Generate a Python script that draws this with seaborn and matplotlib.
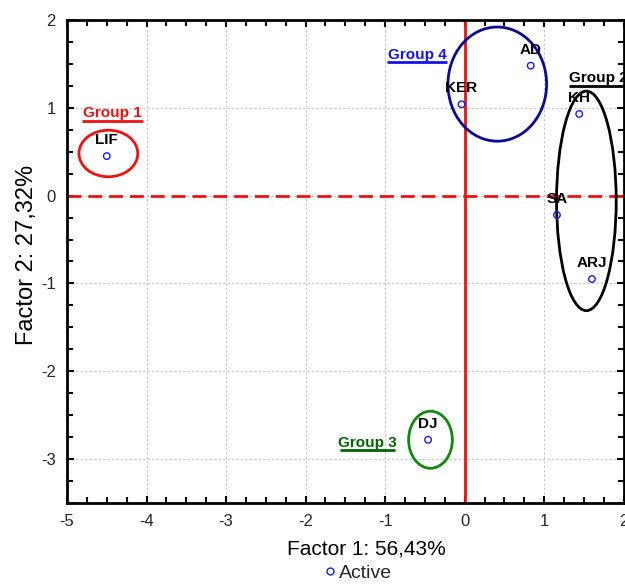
import matplotlib
matplotlib.use("Agg")
import matplotlib.pyplot as plt
from matplotlib.patches import Ellipse
from matplotlib.ticker import MultipleLocator
from matplotlib.lines import Line2D
import seaborn as sns
import pandas as pd

sns.set_theme(style="white")
plt.rcParams['font.family'] = ['Liberation Sans', 'DejaVu Sans']
plt.rcParams['axes.unicode_minus'] = False

labels = ["LIF", "KER", "AD", "KH", "SA", "ARJ", "DJ"]
factor1 = [-4.50, -0.04, 0.83, 1.44, 1.16, 1.60, -0.46]
factor2 = [0.45, 1.04, 1.48, 0.93, -0.22, -0.95, -2.78]

group_names = ["Group 1", "Group 4", "Group 2", "Group 3"]
group_colors = ["#ee1111", "#1414e6", "#000000", "#006400"]
ell_colors = ["#ee1111", "#0a0a96", "#000000", "#118811"]
ell_cx = [-4.48, 0.41, 1.53, -0.43]
ell_cy = [0.48, 1.27, -0.06, -2.78]
ell_w = [0.74, 1.24, 0.75, 0.55]
ell_h = [0.53, 1.30, 2.50, 0.65]
gline_x0 = [-4.81, -0.98, 1.31, -1.57]
gline_x1 = [-4.04, -0.22, 2.05, -0.87]
gline_y = [0.852, 1.52, 1.25, -2.90]
glabel_ha = ["center", "center", "left", "center"]

df = pd.DataFrame({"f1": factor1, "f2": factor2, "lab": labels})

fig = plt.figure(figsize=(6.25, 5.88), dpi=100)
ax = fig.add_axes([0.1072, 0.1446, 0.8908, 0.8214])

ax.set_xlim(-5, 2)
ax.set_ylim(-3.5, 2)
ax.xaxis.set_major_locator(MultipleLocator(1))
ax.xaxis.set_minor_locator(MultipleLocator(0.25))
ax.yaxis.set_major_locator(MultipleLocator(1))
ax.yaxis.set_minor_locator(MultipleLocator(0.25))
ax.grid(True, which="major", color="#c4c4c4", linestyle=(0, (2, 2)), linewidth=0.8)
ax.set_axisbelow(True)

ax.tick_params(which="both", direction="in", top=True, right=True,
               bottom=True, left=True, color="black", width=1.5)
ax.tick_params(which="major", length=5, labelsize=12, pad=8)
ax.tick_params(which="minor", length=4)
for s in ax.spines.values():
    s.set_color("black")
    s.set_linewidth(2)

ax.axhline(0, color="#ee1111", linestyle=(0, (5, 2.5)), linewidth=2, zorder=2)
ax.axvline(0, color="#ee1111", linestyle="-", linewidth=2, zorder=2)

sns.scatterplot(data=df, x="f1", y="f2", ax=ax, marker="o", s=22,
                facecolor="none", edgecolor="#1a1aff", linewidth=1.0,
                zorder=4, legend=False)

for x, y, t in zip(factor1, factor2, labels):
    ax.text(x, y + 0.135, t, ha="center", va="baseline", fontsize=11,
            fontweight="bold", color="black", zorder=5)

for i in range(len(group_names)):
    ax.add_patch(Ellipse((ell_cx[i], ell_cy[i]), ell_w[i], ell_h[i],
                         fill=False, edgecolor=ell_colors[i], linewidth=2, zorder=3))
    tx = (gline_x0[i] + gline_x1[i]) / 2 if glabel_ha[i] == "center" else gline_x0[i]
    ax.text(tx, gline_y[i] + 0.04, group_names[i], ha=glabel_ha[i], va="baseline",
            fontsize=11, fontweight="bold", color=group_colors[i], zorder=5,
            clip_on=False)
    ax.plot([gline_x0[i], gline_x1[i]], [gline_y[i], gline_y[i]],
            color=group_colors[i], linewidth=2, zorder=5, clip_on=False,
            solid_capstyle="butt")

ax.set_xlabel("Factor 1: 56,43%", fontsize=15, color="black")
ax.set_ylabel("Factor 2: 27,32%", fontsize=17, color="black")
ax.xaxis.set_label_coords(0.537, -0.075)
ax.yaxis.set_label_coords(-0.052, 0.513)

handle = Line2D([], [], linestyle="none", marker="o", markersize=5,
                markerfacecolor="none", markeredgecolor="#1a1aff")
fig.legend([handle], ["Active"], loc="lower center", bbox_to_anchor=(0.571, -0.02),
           frameon=False, fontsize=14, handletextpad=0.05, handlelength=0.8)

fig.savefig("out.png", dpi=100)
